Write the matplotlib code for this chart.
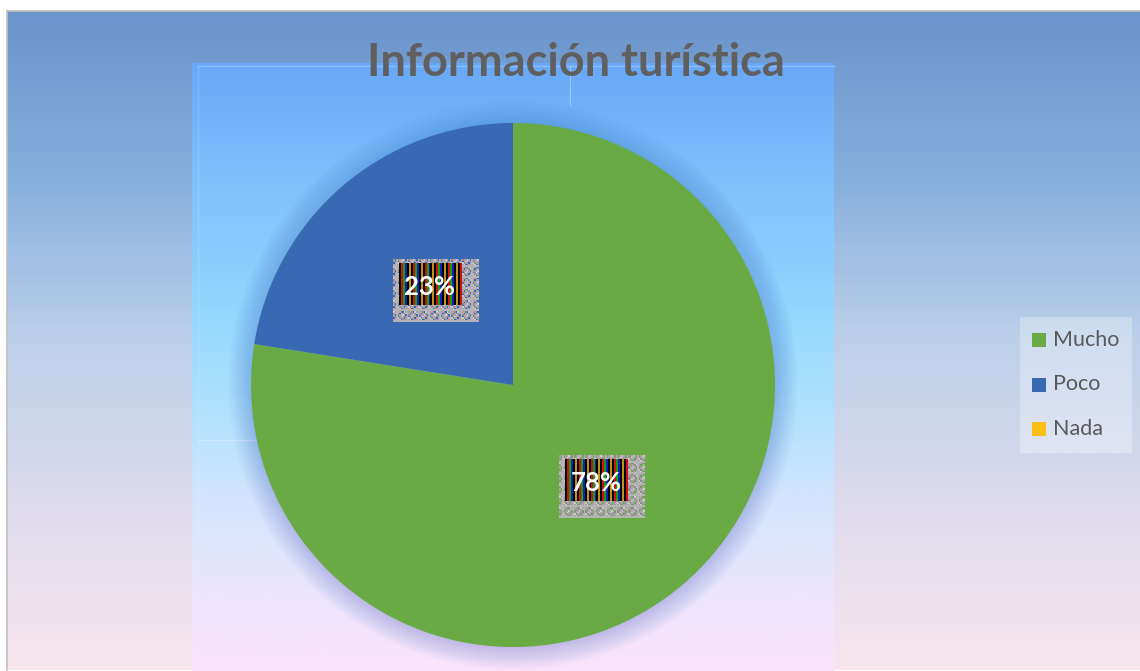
"""
Pie chart: Información turística (Mucho / Poco / Nada).
"""

import numpy as np
import matplotlib
matplotlib.use('Agg')
import matplotlib.pyplot as plt
from matplotlib.colors import LinearSegmentedColormap, to_rgb
from matplotlib.patches import Rectangle, Circle

# data
categories = ['Mucho', 'Poco', 'Nada']
values = [31, 9, 0]
pct_labels = ['78%', '23%', '']
colors = ['#6aaa44', '#3a69b3', '#fdbf14']
title = 'Información turística'

W, H = 1140, 671


def Y(y):
    # pixel row (top-down) -> data y (bottom-up)
    return H - y


def gradient(ax, x0, x1, y0, y1, stops, zorder=0):
    cmap = LinearSegmentedColormap.from_list('g', stops)
    arr = np.linspace(0, 1, 256).reshape(-1, 1)
    ax.imshow(arr, cmap=cmap, extent=(x0, x1, Y(y1), Y(y0)), origin='upper',
              aspect='auto', interpolation='bicubic', zorder=zorder)


def label_box(ax, cx, cy, base):
    # noisy outer box
    h, w = 40, 56
    ii, jj = np.mgrid[0:h, 0:w]
    base = np.array(to_rgb(base))
    tones = np.array([to_rgb('#a8a0a8'), to_rgb('#c890c8'), to_rgb('#8c8c8c'),
                      base, to_rgb('#d0c8d0'), to_rgb('#90b090'),
                      to_rgb('#b4b4b4')])
    outer = tones[(ii * 5 + jj * 3 + (ii * jj) % 7) % len(tones)]
    ax.imshow(outer, extent=(cx - 37, cx + 49, Y(cy + 35), Y(cy - 28)),
              interpolation='nearest', aspect='auto', zorder=4)
    # striped inner box
    stripes = np.array([to_rgb(c) for c in ['#000000', '#d01010', '#10a010',
                                            '#1020c0', '#000000', '#c09020']])
    inner = stripes[(np.arange(32) % len(stripes))].reshape(1, -1, 3)
    ax.imshow(inner, extent=(cx - 31, cx + 32, Y(cy + 18), Y(cy - 24)),
              interpolation='nearest', aspect='auto', zorder=5)


fig = plt.figure(figsize=(W / 100, H / 100), dpi=100)
fig.patch.set_facecolor('white')
ax = fig.add_axes([0, 0, 1, 1])
ax.set_xlim(0, W)
ax.set_ylim(0, H)
ax.axis('off')

# chart area background + border
gradient(ax, 7, W, 11, 670,
         ['#6a94cb', '#86afdd', '#bcd0ea', '#dedbec', '#f7e6ee'])
ax.plot([6.5, 6.5], [Y(670), Y(10.5)], color='#c0c0c0', lw=1.2, zorder=1)
ax.plot([6.5, W], [Y(10.5), Y(10.5)], color='#c0c0c0', lw=1.2, zorder=1)

# plot area background
gradient(ax, 192, 834, 63, 671,
         [(0.0, '#68a8f8'), (0.15, '#79bcfc'), (0.4, '#93d6fd'),
          (0.58, '#b2e2fd'), (0.72, '#d3e5fd'), (0.85, '#e8e4fd'),
          (1.0, '#fbe4fb')])
ax.plot([198, 834], [Y(66), Y(66)], color='white', lw=1, alpha=0.25, zorder=1)
ax.plot([198, 198], [Y(66), Y(671)], color='white', lw=1, alpha=0.15, zorder=1)
ax.plot([570, 570], [Y(66), Y(105)], color='white', lw=0.8, alpha=0.35, zorder=1)
ax.plot([198, 258], [Y(440), Y(440)], color='white', lw=0.8, alpha=0.35, zorder=1)

cx, cy, r = 513, Y(385), 262

# soft glow around the pie
for k in range(1, 22):
    ax.add_patch(Circle((cx, cy), r + k * 1.1, color='#2f63b0', alpha=0.01,
                        lw=0, zorder=1.5))

label_iter = iter(pct_labels)
wedges, texts, autotexts = ax.pie(
    values, colors=colors, startangle=90, counterclock=False,
    center=(cx, cy), radius=r, autopct=lambda p: next(label_iter),
    pctdistance=0.49, wedgeprops=dict(linewidth=0),
    textprops=dict(color='white', fontsize=18.5, fontweight='bold',
                   family='Lato'))
for w in wedges:
    w.set_zorder(2)
ax.set_xlim(0, W)
ax.set_ylim(0, H)
ax.set_aspect('auto')

for t in autotexts:
    if t.get_text():
        tx, ty = t.get_position()
        label_box(ax, tx, Y(ty), colors[autotexts.index(t)])
        t.set_zorder(6)
        t.set_va('center')

ax.text(576, Y(63), title, ha='center', va='center', fontsize=32.5,
        fontweight='bold', family='Lato', color='#5f5f5f', zorder=7)

# legend
ax.add_patch(Rectangle((1020, Y(453)), 112, 136, facecolor='white', alpha=0.3,
                       lw=0, zorder=3))
for i, (name, col) in enumerate(zip(categories, colors)):
    yc = 340 + i * 44.5
    ax.add_patch(Rectangle((1032, Y(yc + 7)), 14, 14, facecolor=col, lw=0,
                           zorder=4))
    ax.text(1053, Y(yc), name, ha='left', va='center', fontsize=15.5,
            family='Lato', color='#595959', zorder=4)

fig.savefig('out.png', dpi=100)
